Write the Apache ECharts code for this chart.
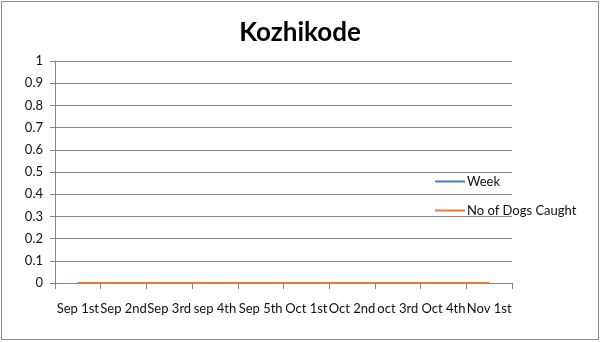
<!DOCTYPE html>
<html><head><meta charset="utf-8">
<script src="https://cdn.jsdelivr.net/npm/echarts@6/dist/echarts.min.js"></script>
<style>html,body{margin:0;padding:0;background:#fff}#c{width:600px;height:342px}</style>
</head><body><div id="c"></div>
<script>
const categories = ['Sep 1st','Sep 2nd','Sep 3rd','sep 4th','Sep 5th','Oct 1st','Oct 2nd','oct 3rd','Oct 4th','Nov 1st'];
const weekValues = [0,0,0,0,0,0,0,0,0,0];
const dogsCaught = [0,0,0,0,0,0,0,0,0,0];
const yMin = 0, yMax = 1, yStep = 0.1;
const font = 'Lato, "Open Sans", sans-serif';
const chart = echarts.init(document.getElementById('c'), null, {renderer:'canvas'});
chart.setOption({
  animation:false,
  title:{text:'Kozhikode',left:'center',top:15,textStyle:{fontFamily:font,fontSize:26,fontWeight:'bold',color:'#000'}},
  graphic:[{type:'rect',shape:{x:1.5,y:1.5,width:597,height:338},style:{fill:'none',stroke:'#8c8c8c',lineWidth:1}}],
  legend:{orient:'vertical',left:430,top:169,icon:'rect',itemWidth:30,itemHeight:2,itemGap:14,
    textStyle:{fontFamily:font,fontSize:13,color:'#111',padding:[0,0,0,-3],lineHeight:15,height:15},
    data:['Week','No of Dogs Caught']},
  grid:{left:55,right:88,top:61,bottom:59,containLabel:false},
  xAxis:{type:'category',data:categories,boundaryGap:true,
    axisLine:{lineStyle:{color:'#868686'}},
    axisTick:{show:true,alignWithLabel:false,length:6,lineStyle:{color:'#868686'}},
    axisLabel:{interval:0,margin:19,fontFamily:font,fontSize:13,color:'#111'}},
  yAxis:{type:'value',min:yMin,max:yMax,interval:yStep,
    axisLine:{show:true,lineStyle:{color:'#868686'}},
    axisTick:{show:true,length:5,lineStyle:{color:'#868686'}},
    splitLine:{lineStyle:{color:'#868686'}},
    axisLabel:{margin:12,fontFamily:font,fontSize:13,color:'#111',formatter:v=>String(Math.round(v*10)/10)}},
  series:[
    {name:'Week',type:'line',data:weekValues,symbol:'none',lineStyle:{color:'#4a7ebb',width:2},itemStyle:{color:'#4a7ebb'}},
    {name:'No of Dogs Caught',type:'line',data:dogsCaught,symbol:'none',lineStyle:{color:'#e57b33',width:2},itemStyle:{color:'#e57b33'}}
  ]
});
</script></body></html>
